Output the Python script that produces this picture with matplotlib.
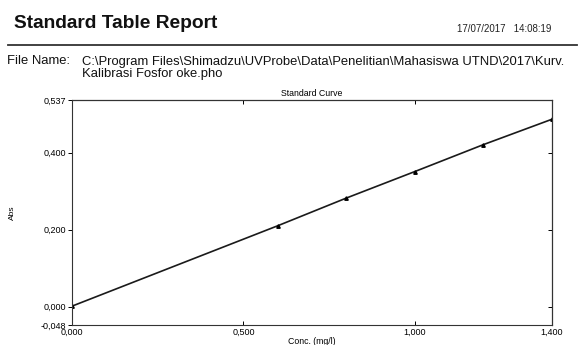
import matplotlib
matplotlib.use("Agg")
import matplotlib.pyplot as plt
from matplotlib.lines import Line2D
from matplotlib.ticker import FuncFormatter

plt.rcParams["font.family"] = ["Liberation Sans", "DejaVu Sans"]

# ── Data ──────────────────────────────────────────────────────────────
conc = [0.0, 0.6, 0.8, 1.0, 1.2, 1.4]
absorb = [0.001, 0.210, 0.282, 0.351, 0.421, 0.487]

x_ticks = [0.0, 0.5, 1.0, 1.4]
y_ticks = [-0.048, 0.0, 0.2, 0.4, 0.537]

W, H = 587, 345


def fx(px):
    return px / W


def fy(py):
    return 1 - py / H


def comma(v, pos=None):
    return f"{v:.3f}".replace(".", ",")


fig = plt.figure(figsize=(W / 100, H / 100), dpi=100)

# ── Header ────────────────────────────────────────────────────────────
fig.text(fx(14), fy(23), "Standard Table Report", fontsize=13.8,
         fontweight="bold", va="center", ha="left", color="#111111")
fig.text(fx(551), fy(29), "17/07/2017   14:08:19", fontsize=7,
         va="center", ha="right", color="#222222")
fig.add_artist(Line2D([fx(8), fx(577)], [fy(44.5), fy(44.5)], color="#333333",
                      lw=1.3, transform=fig.transFigure))
fig.text(fx(7), fy(61.5), "File Name:", fontsize=9.4, va="center", ha="left",
         color="#111111")
fig.text(fx(82), fy(61.5),
         "C:\\Program Files\\Shimadzu\\UVProbe\\Data\\Penelitian\\Mahasiswa UTND\\2017\\Kurv.",
         fontsize=9.4, va="center", ha="left", color="#111111")
fig.text(fx(82), fy(73.5), "Kalibrasi Fosfor oke.pho", fontsize=9.4,
         va="center", ha="left", color="#111111")

# ── Chart ─────────────────────────────────────────────────────────────
ax = fig.add_axes([fx(72), fy(325), (552 - 72) / W, (325 - 100) / H])
ax.plot(conc, absorb, color="#1a1a1a", lw=1.2, marker="^", ms=2.5,
        mfc="black", mec="black")

ax.set_xlim(0, 1.4)
ax.set_ylim(-0.048, 0.537)
ax.set_xticks(x_ticks)
ax.set_yticks(y_ticks)
ax.xaxis.set_major_formatter(FuncFormatter(comma))
ax.yaxis.set_major_formatter(FuncFormatter(comma))
ax.tick_params(axis="x", direction="in", length=3, width=0.7, labelsize=6.5,
               pad=2)
ax.tick_params(axis="y", direction="out", length=3, width=0.7, labelsize=6.5,
               pad=1)
for s in ax.spines.values():
    s.set_linewidth(0.8)
    s.set_color("#333333")

sec_x = ax.secondary_xaxis("top")
sec_x.set_xticks(x_ticks)
sec_x.tick_params(direction="in", length=3, width=0.7, labeltop=False)
sec_y = ax.secondary_yaxis("right")
sec_y.set_yticks(y_ticks)
sec_y.tick_params(direction="in", length=3, width=0.7, labelright=False)

ax.set_title("Standard Curve", fontsize=6.3, pad=3)
ax.set_xlabel("Conc. (mg/l)", fontsize=6.3, labelpad=0)
ax.set_ylabel("Abs", fontsize=6, labelpad=18)

fig.savefig("out.png", dpi=100)
